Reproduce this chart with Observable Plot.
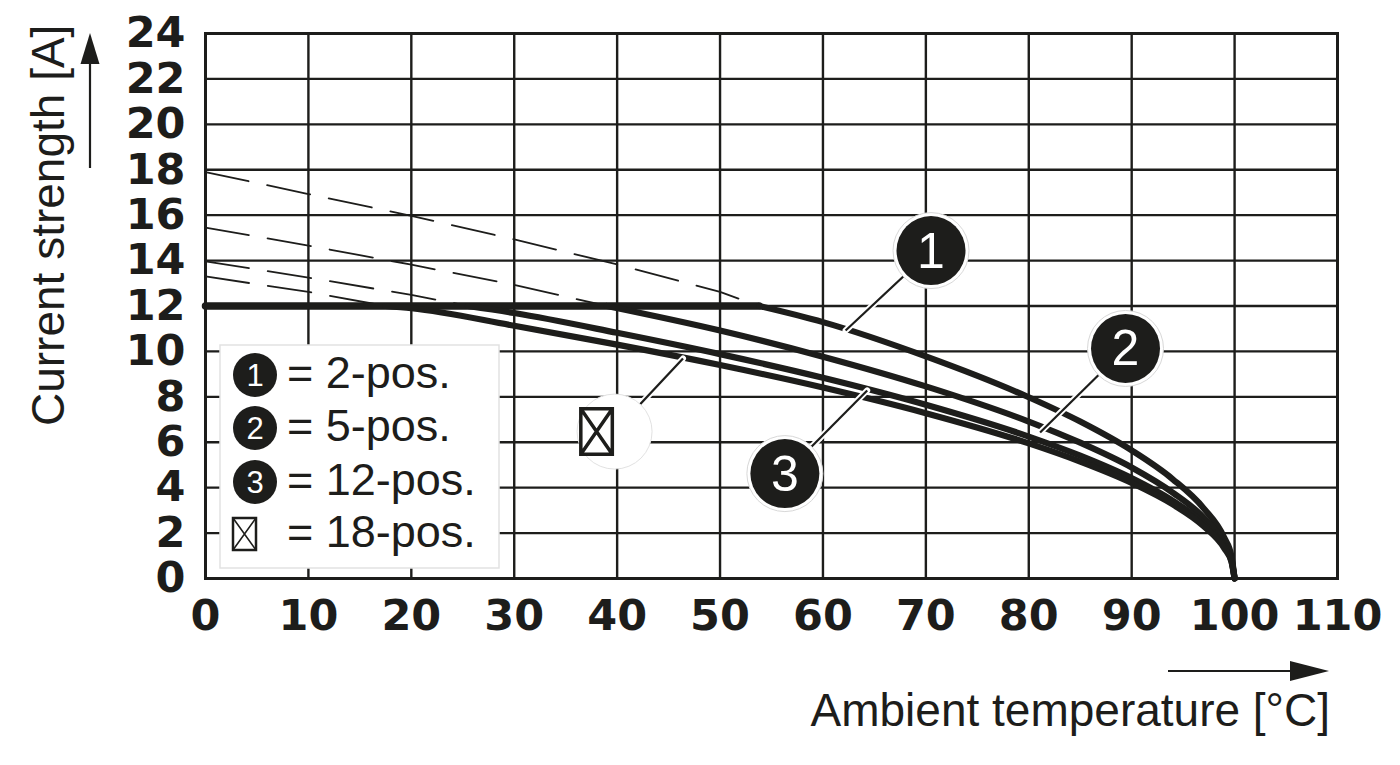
<!DOCTYPE html>
<html>
<head>
<meta charset="utf-8">
<script src="https://cdn.jsdelivr.net/npm/d3@7"></script>
<script src="https://cdn.jsdelivr.net/npm/@observablehq/plot@0.6"></script>
<style>
  body { margin: 0; background: #fff; }
  #chart svg { font-family: "Liberation Sans", Arial, Helvetica, sans-serif; }
  #chart svg g[aria-label="x-axis tick label"] text,
  #chart svg g[aria-label="y-axis tick label"] text { font-family: "DejaVu Sans", sans-serif; font-weight: bold; font-size: 43px; }
</style>
</head>
<body>
<div id="chart"></div>
<script>
// ---- tick values ----
const xTicks = [0, 10, 20, 30, 40, 50, 60, 70, 80, 90, 100, 110];
const yTicks = [0, 2, 4, 6, 8, 10, 12, 14, 16, 18, 20, 22, 24];

// ---- series names ----
const seriesNames = ["2-pos.", "5-pos.", "12-pos.", "18-pos."];

// ---- dashed (theoretical) part of each derating curve, above the 12 A limit ----
const dashTemp1 = [0, 10, 20, 30, 40, 50, 53.8];
const dashCurr1 = [17.9, 16.93, 15.97, 14.93, 13.83, 12.62, 12.0];
const dashTemp2 = [0, 10, 20, 30, 39];
const dashCurr2 = [15.45, 14.66, 13.82, 12.93, 12.0];
const dashTemp3 = [0, 10, 20, 25.5];
const dashCurr3 = [13.97, 13.25, 12.49, 12.0];
const dashTemp4 = [0, 10, 17.5];
const dashCurr4 = [13.3, 12.62, 12.0];

// ---- solid (valid) part of each derating curve ----
const solidTemp1 = [53.8, 60, 70, 80, 85, 90, 94, 97, 99, 99.7, 100];
const solidCurr1 = [12.0, 11.29, 9.78, 7.98, 6.91, 5.64, 4.37, 3.09, 1.79, 0.98, 0];
const solidTemp2 = [39, 50, 60, 70, 80, 85, 90, 94, 97, 99, 99.7, 100];
const solidCurr2 = [12.0, 10.92, 9.77, 8.46, 6.91, 5.98, 4.89, 3.78, 2.68, 1.55, 0.85, 0];
const solidTemp3 = [25.5, 30, 40, 50, 60, 70, 80, 85, 90, 94, 97, 99, 99.7, 100];
const solidCurr3 = [12.0, 11.69, 10.82, 9.88, 8.84, 7.65, 6.25, 5.41, 4.42, 3.42, 2.42, 1.40, 0.77, 0];
const solidTemp4 = [17.5, 20, 30, 40, 50, 60, 70, 80, 85, 90, 94, 97, 99, 99.7, 100];
const solidCurr4 = [12.0, 11.90, 11.13, 10.30, 9.40, 8.41, 7.28, 5.95, 5.15, 4.21, 3.26, 2.30, 1.33, 0.73, 0];

// ---- common current limit ----
const limitTemp = [0, 53.8];
const limitCurr = [12, 12];

// ---- callouts (label position and the curve point each leader touches) ----
const calloutLabels = ["1", "2", "3", "box"];
const calloutX = [70.5, 89.4, 56.3, 39.75];
const calloutY = [14.44, 10.13, 4.62, 6.47];
const leaderX = [62.2, 81.1, 64.3, 46.4];
const leaderY = [10.92, 6.43, 8.28, 9.69];

// ---- legend ----
const legendKeys = ["1", "2", "3", "box"];
const legendTexts = ["= 2-pos.", "= 5-pos.", "= 12-pos.", "= 18-pos."];

// ================= build tables =================
const toRows = (T, I, s) => T.map((t, i) => ({T: t, I: I[i], s}));
const dashedRows = [
  ...toRows(dashTemp1, dashCurr1, seriesNames[0]),
  ...toRows(dashTemp2, dashCurr2, seriesNames[1]),
  ...toRows(dashTemp3, dashCurr3, seriesNames[2]),
  ...toRows(dashTemp4, dashCurr4, seriesNames[3])
];
const solidRows = [
  ...toRows(solidTemp1, solidCurr1, seriesNames[0]),
  ...toRows(solidTemp2, solidCurr2, seriesNames[1]),
  ...toRows(solidTemp3, solidCurr3, seriesNames[2]),
  ...toRows(solidTemp4, solidCurr4, seriesNames[3])
];
const limitRows = toRows(limitTemp, limitCurr, "limit");
const callouts = calloutLabels.map((l, i) => ({label: l, cx: calloutX[i], cy: calloutY[i], lx: leaderX[i], ly: leaderY[i]}));
const numCallouts = callouts.filter(d => d.label !== "box");
const boxCallouts = callouts.filter(d => d.label === "box");

const ink = "#1d1d1b";
const W = 1400, H = 765;
const mL = 205, mR = 63, mT = 33, mB = 187;

// box-with-cross symbol
const boxCross = {
  draw(ctx, size) {
    const r = Math.sqrt(size / Math.PI);
    const w = r * 0.9, h = r * 1.3;
    ctx.moveTo(-w / 2, -h / 2); ctx.lineTo(w / 2, -h / 2); ctx.lineTo(w / 2, h / 2); ctx.lineTo(-w / 2, h / 2); ctx.closePath();
    ctx.moveTo(-w / 2, -h / 2); ctx.lineTo(w / 2, h / 2);
    ctx.moveTo(w / 2, -h / 2); ctx.lineTo(-w / 2, h / 2);
  }
};

const plot = Plot.plot({
  width: W, height: H,
  marginLeft: mL, marginRight: mR, marginTop: mT, marginBottom: mB,
  style: {background: "white", color: ink, overflow: "visible"},
  x: {domain: [0, 110], label: null},
  y: {domain: [0, 24], label: null},
  marks: [
    Plot.gridX(xTicks, {stroke: ink, strokeOpacity: 1, strokeWidth: 2.4}),
    Plot.gridY(yTicks, {stroke: ink, strokeOpacity: 1, strokeWidth: 2.4}),
    Plot.frame({stroke: ink, strokeWidth: 3}),
    Plot.axisX(xTicks, {tickSize: 0, tickPadding: 21, tickFormat: d => String(d), fill: ink}),
    Plot.axisY(yTicks, {tickSize: 0, tickPadding: 20, tickFormat: d => String(d), fill: ink}),
    Plot.line(dashedRows, {x: "T", y: "I", z: "s", stroke: ink, strokeWidth: 1.8, strokeDasharray: "44,19"}),
    Plot.line(limitRows, {x: "T", y: "I", stroke: ink, strokeWidth: 7.5, strokeLinecap: "round"}),
    Plot.line(solidRows, {x: "T", y: "I", z: "s", stroke: ink, strokeWidth: 6.2, curve: "monotone-x", strokeLinecap: "round"}),
    // leader lines with white halo
    Plot.link(callouts, {x1: "cx", y1: "cy", x2: "lx", y2: "ly", stroke: "white", strokeWidth: 6, strokeLinecap: "round"}),
    Plot.link(callouts, {x1: "cx", y1: "cy", x2: "lx", y2: "ly", stroke: ink, strokeWidth: 2.2}),
    // numbered callouts
    Plot.dot(numCallouts, {x: "cx", y: "cy", r: 38, fill: "white", stroke: "#d8d8d8", strokeWidth: 1}),
    Plot.dot(numCallouts, {x: "cx", y: "cy", r: 34.5, fill: ink}),
    Plot.text(numCallouts, {x: "cx", y: "cy", text: "label", fill: "white", fontSize: 50, dy: 1}),
    // box callout
    Plot.dot(boxCallouts, {x: "cx", y: "cy", r: 37.5, fill: "white", stroke: "#e2e2e2", strokeWidth: 1}),
    Plot.dot(boxCallouts, {x: "cx", y: "cy", r: 35, symbol: boxCross, fill: "white", stroke: ink, strokeWidth: 3.5, dx: -18})
  ]
});

document.getElementById("chart").appendChild(plot);

// ================= annotations (legend, axis titles, arrows) =================
const svg = d3.select(plot);
const font = '"Liberation Sans", Arial, Helvetica, sans-serif';

// legend box
const lg = svg.append("g").attr("font-family", font);
lg.append("rect").attr("x", 220).attr("y", 345).attr("width", 279).attr("height", 223)
  .attr("fill", "white").attr("stroke", "#e2e2e2").attr("stroke-width", 1.5);
const rowY = [375, 428, 482, 534];
legendKeys.forEach((k, i) => {
  const cy = rowY[i];
  if (k === "box") {
    lg.append("rect").attr("x", 233).attr("y", cy - 16).attr("width", 23).attr("height", 32)
      .attr("fill", "white").attr("stroke", ink).attr("stroke-width", 2.5);
    lg.append("path").attr("d", `M233,${cy - 16}L256,${cy + 16}M256,${cy - 16}L233,${cy + 16}`)
      .attr("stroke", ink).attr("stroke-width", 1.6);
  } else {
    lg.append("circle").attr("cx", 255).attr("cy", cy).attr("r", 22).attr("fill", ink);
    lg.append("text").attr("x", 255).attr("y", cy + 11).attr("text-anchor", "middle")
      .attr("fill", "white").attr("font-size", 31).text(k);
  }
  lg.append("text").attr("x", 287).attr("y", cy + 13).attr("text-anchor", "start").attr("fill", ink)
    .attr("font-size", 45).text(legendTexts[i]);
});

// y-axis title and arrow
svg.append("text").attr("transform", "translate(64,426) rotate(-90)").attr("text-anchor", "start")
  .attr("font-family", font).attr("font-size", 46).attr("fill", ink)
  .text("Current strength [A]");
svg.append("line").attr("x1", 90).attr("x2", 90).attr("y1", 168).attr("y2", 60)
  .attr("stroke", ink).attr("stroke-width", 2.2);
svg.append("path").attr("d", "M90,33L80.5,64L99.5,64Z").attr("fill", ink);

// x-axis title and arrow
svg.append("text").attr("x", 1330).attr("y", 726).attr("text-anchor", "end")
  .attr("font-family", font).attr("font-size", 46).attr("fill", ink)
  .text("Ambient temperature [°C]");
svg.append("line").attr("x1", 1168).attr("x2", 1300).attr("y1", 671).attr("y2", 671)
  .attr("stroke", ink).attr("stroke-width", 2.2);
svg.append("path").attr("d", "M1329,671L1290,661L1290,681Z").attr("fill", ink);
</script>
</body>
</html>
